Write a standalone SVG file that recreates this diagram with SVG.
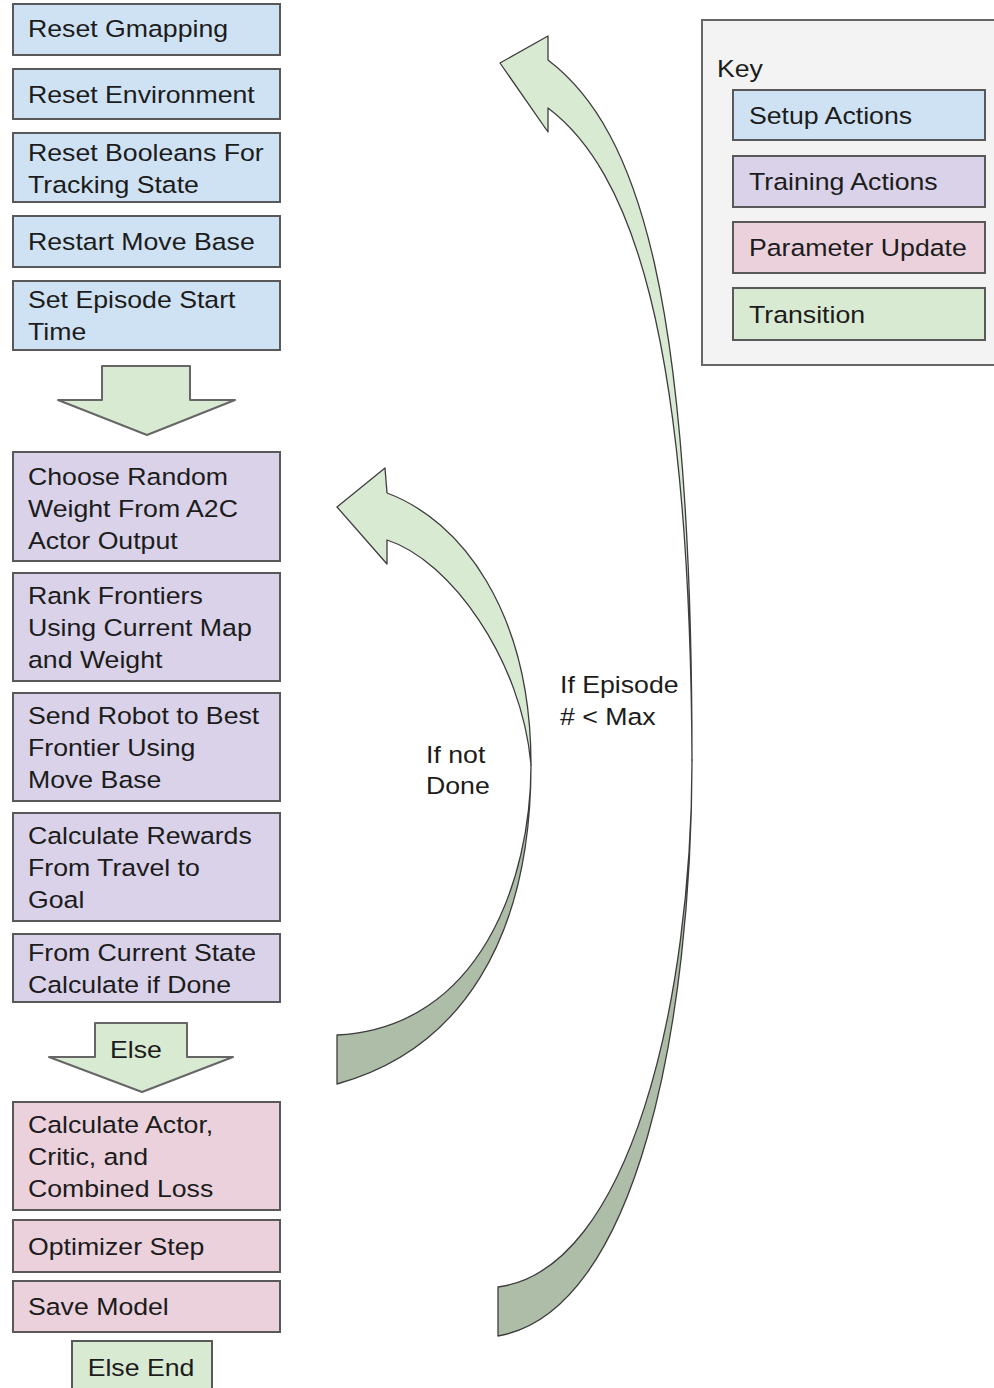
<svg xmlns="http://www.w3.org/2000/svg" width="994" height="1388" viewBox="0 0 994 1388">
  <style>
    .box { stroke: #595959; stroke-width: 2; }
    .setup { fill: #cfe2f3; }
    .train { fill: #d9d2e9; }
    .param { fill: #ead1dc; }
    .trans { fill: #d9ead3; }
    .keybg { fill: #f3f3f3; stroke: #666666; stroke-width: 2; }
    .lbl { font-family: "Liberation Sans", Arial, sans-serif; font-size: 23.5px; fill: #1c1c1c; }
    .mid { text-anchor: middle; }
    .front { fill: #d9ead3; stroke: #3d3d3d; stroke-width: 1.3; stroke-linejoin: round; }
    .back { fill: #aebda8; stroke: #3d3d3d; stroke-width: 1.3; stroke-linejoin: round; }
    .block { fill: #d9ead3; stroke: #666666; stroke-width: 2; stroke-linejoin: round; }
  </style>

  <!-- Setup actions -->
  <g id="reset-gmapping">
    <rect class="box setup" x="13" y="4" width="267" height="51"/>
    <text class="lbl" transform="translate(28 37) scale(1.135 1)">Reset Gmapping</text>
  </g>
  <g id="reset-environment">
    <rect class="box setup" x="13" y="69" width="267" height="50"/>
    <text class="lbl" transform="translate(28 103) scale(1.135 1)">Reset Environment</text>
  </g>
  <g id="reset-booleans">
    <rect class="box setup" x="13" y="133" width="267" height="69"/>
    <text class="lbl" transform="translate(28 161) scale(1.135 1)"><tspan x="0" y="0">Reset Booleans For</tspan><tspan x="0" y="32">Tracking State</tspan></text>
  </g>
  <g id="restart-move-base">
    <rect class="box setup" x="13" y="216" width="267" height="51"/>
    <text class="lbl" transform="translate(28 250) scale(1.135 1)">Restart Move Base</text>
  </g>
  <g id="episode-start-time">
    <rect class="box setup" x="13" y="281" width="267" height="69"/>
    <text class="lbl" transform="translate(28 308) scale(1.135 1)"><tspan x="0" y="0">Set Episode Start</tspan><tspan x="0" y="32">Time</tspan></text>
  </g>

  <!-- Training actions -->
  <g id="choose-weight">
    <rect class="box train" x="13" y="452" width="267" height="109"/>
    <text class="lbl" transform="translate(28 485) scale(1.135 1)"><tspan x="0" y="0">Choose Random</tspan><tspan x="0" y="32">Weight From A2C</tspan><tspan x="0" y="64">Actor Output</tspan></text>
  </g>
  <g id="rank-frontiers">
    <rect class="box train" x="13" y="573" width="267" height="108"/>
    <text class="lbl" transform="translate(28 604) scale(1.135 1)"><tspan x="0" y="0">Rank Frontiers</tspan><tspan x="0" y="32">Using Current Map</tspan><tspan x="0" y="64">and Weight</tspan></text>
  </g>
  <g id="send-robot">
    <rect class="box train" x="13" y="693" width="267" height="108"/>
    <text class="lbl" transform="translate(28 724) scale(1.135 1)"><tspan x="0" y="0">Send Robot to Best</tspan><tspan x="0" y="32">Frontier Using</tspan><tspan x="0" y="64">Move Base</tspan></text>
  </g>
  <g id="calc-rewards">
    <rect class="box train" x="13" y="813" width="267" height="108"/>
    <text class="lbl" transform="translate(28 844) scale(1.135 1)"><tspan x="0" y="0">Calculate Rewards</tspan><tspan x="0" y="32">From Travel to</tspan><tspan x="0" y="64">Goal</tspan></text>
  </g>
  <g id="calc-done">
    <rect class="box train" x="13" y="934" width="267" height="68"/>
    <text class="lbl" transform="translate(28 961) scale(1.135 1)"><tspan x="0" y="0">From Current State</tspan><tspan x="0" y="32">Calculate if Done</tspan></text>
  </g>

  <!-- Parameter update -->
  <g id="calc-loss">
    <rect class="box param" x="13" y="1102" width="267" height="108"/>
    <text class="lbl" transform="translate(28 1133) scale(1.135 1)"><tspan x="0" y="0">Calculate Actor,</tspan><tspan x="0" y="32">Critic, and</tspan><tspan x="0" y="64">Combined Loss</tspan></text>
  </g>
  <g id="optimizer-step">
    <rect class="box param" x="13" y="1220" width="267" height="52"/>
    <text class="lbl" transform="translate(28 1255) scale(1.135 1)">Optimizer Step</text>
  </g>
  <g id="save-model">
    <rect class="box param" x="13" y="1281" width="267" height="51"/>
    <text class="lbl" transform="translate(28 1315) scale(1.135 1)">Save Model</text>
  </g>
  <g id="else-end">
    <rect class="box trans" x="72" y="1341" width="140" height="60"/>
    <text class="lbl mid" transform="translate(141 1376) scale(1.135 1)">Else End</text>
  </g>

  <!-- Key -->
  <g id="key">
    <rect class="keybg" x="702" y="20" width="310" height="345"/>
    <text class="lbl" transform="translate(717 77) scale(1.135 1)">Key</text>
    <rect class="box setup" x="733" y="90" width="252" height="50"/>
    <text class="lbl" transform="translate(749 124) scale(1.135 1)">Setup Actions</text>
    <rect class="box train" x="733" y="156" width="252" height="51"/>
    <text class="lbl" transform="translate(749 190) scale(1.135 1)">Training Actions</text>
    <rect class="box param" x="733" y="222" width="252" height="51"/>
    <text class="lbl" transform="translate(749 256) scale(1.135 1)">Parameter Update</text>
    <rect class="box trans" x="733" y="288" width="252" height="52"/>
    <text class="lbl" transform="translate(749 323) scale(1.135 1)">Transition</text>
  </g>

  <!-- Connectors -->
  <g id="connectors">
    <!-- block arrow: setup to training -->
    <polygon class="block" points="102,366 190,366 190,400 235,400 147,435 58,400 102,400"/>
    <!-- block arrow: done to parameter update -->
    <g id="else-arrow">
      <polygon class="block" points="95,1023 187,1023 187,1057 233,1057 142,1092 49,1057 95,1057"/>
      <text class="lbl mid" transform="translate(136 1058) scale(1.135 1)">Else</text>
    </g>

    <!-- curved loop: if not done -->
    <g id="loop-not-done">
      <path class="back" d="M337,1035 C480,1028 531,880 531,765 C531,940 460,1050 337,1084 Z"/>
      <path class="front" d="M387,493 C460,520 531,610 531,765 C522,660 450,560 387,540 L387,564 L337,507 L385,468 Z"/>
      <text class="lbl" transform="translate(426 763) scale(1.135 1)"><tspan x="0" y="0">If not</tspan><tspan x="0" y="31">Done</tspan></text>
    </g>

    <!-- curved loop: next episode -->
    <g id="loop-episode">
      <path class="back" d="M498,1287 C630,1270 692,1000 692,760 C692,1020 638,1312 498,1336 Z"/>
      <path class="front" d="M548,60 C640,130 692,300 692,760 C690,330 630,170 548,108 L548,132 L500,63 L548,36 Z"/>
      <text class="lbl" transform="translate(560 693) scale(1.135 1)"><tspan x="0" y="0">If Episode</tspan><tspan x="0" y="32"># &lt; Max</tspan></text>
    </g>
  </g>
</svg>
